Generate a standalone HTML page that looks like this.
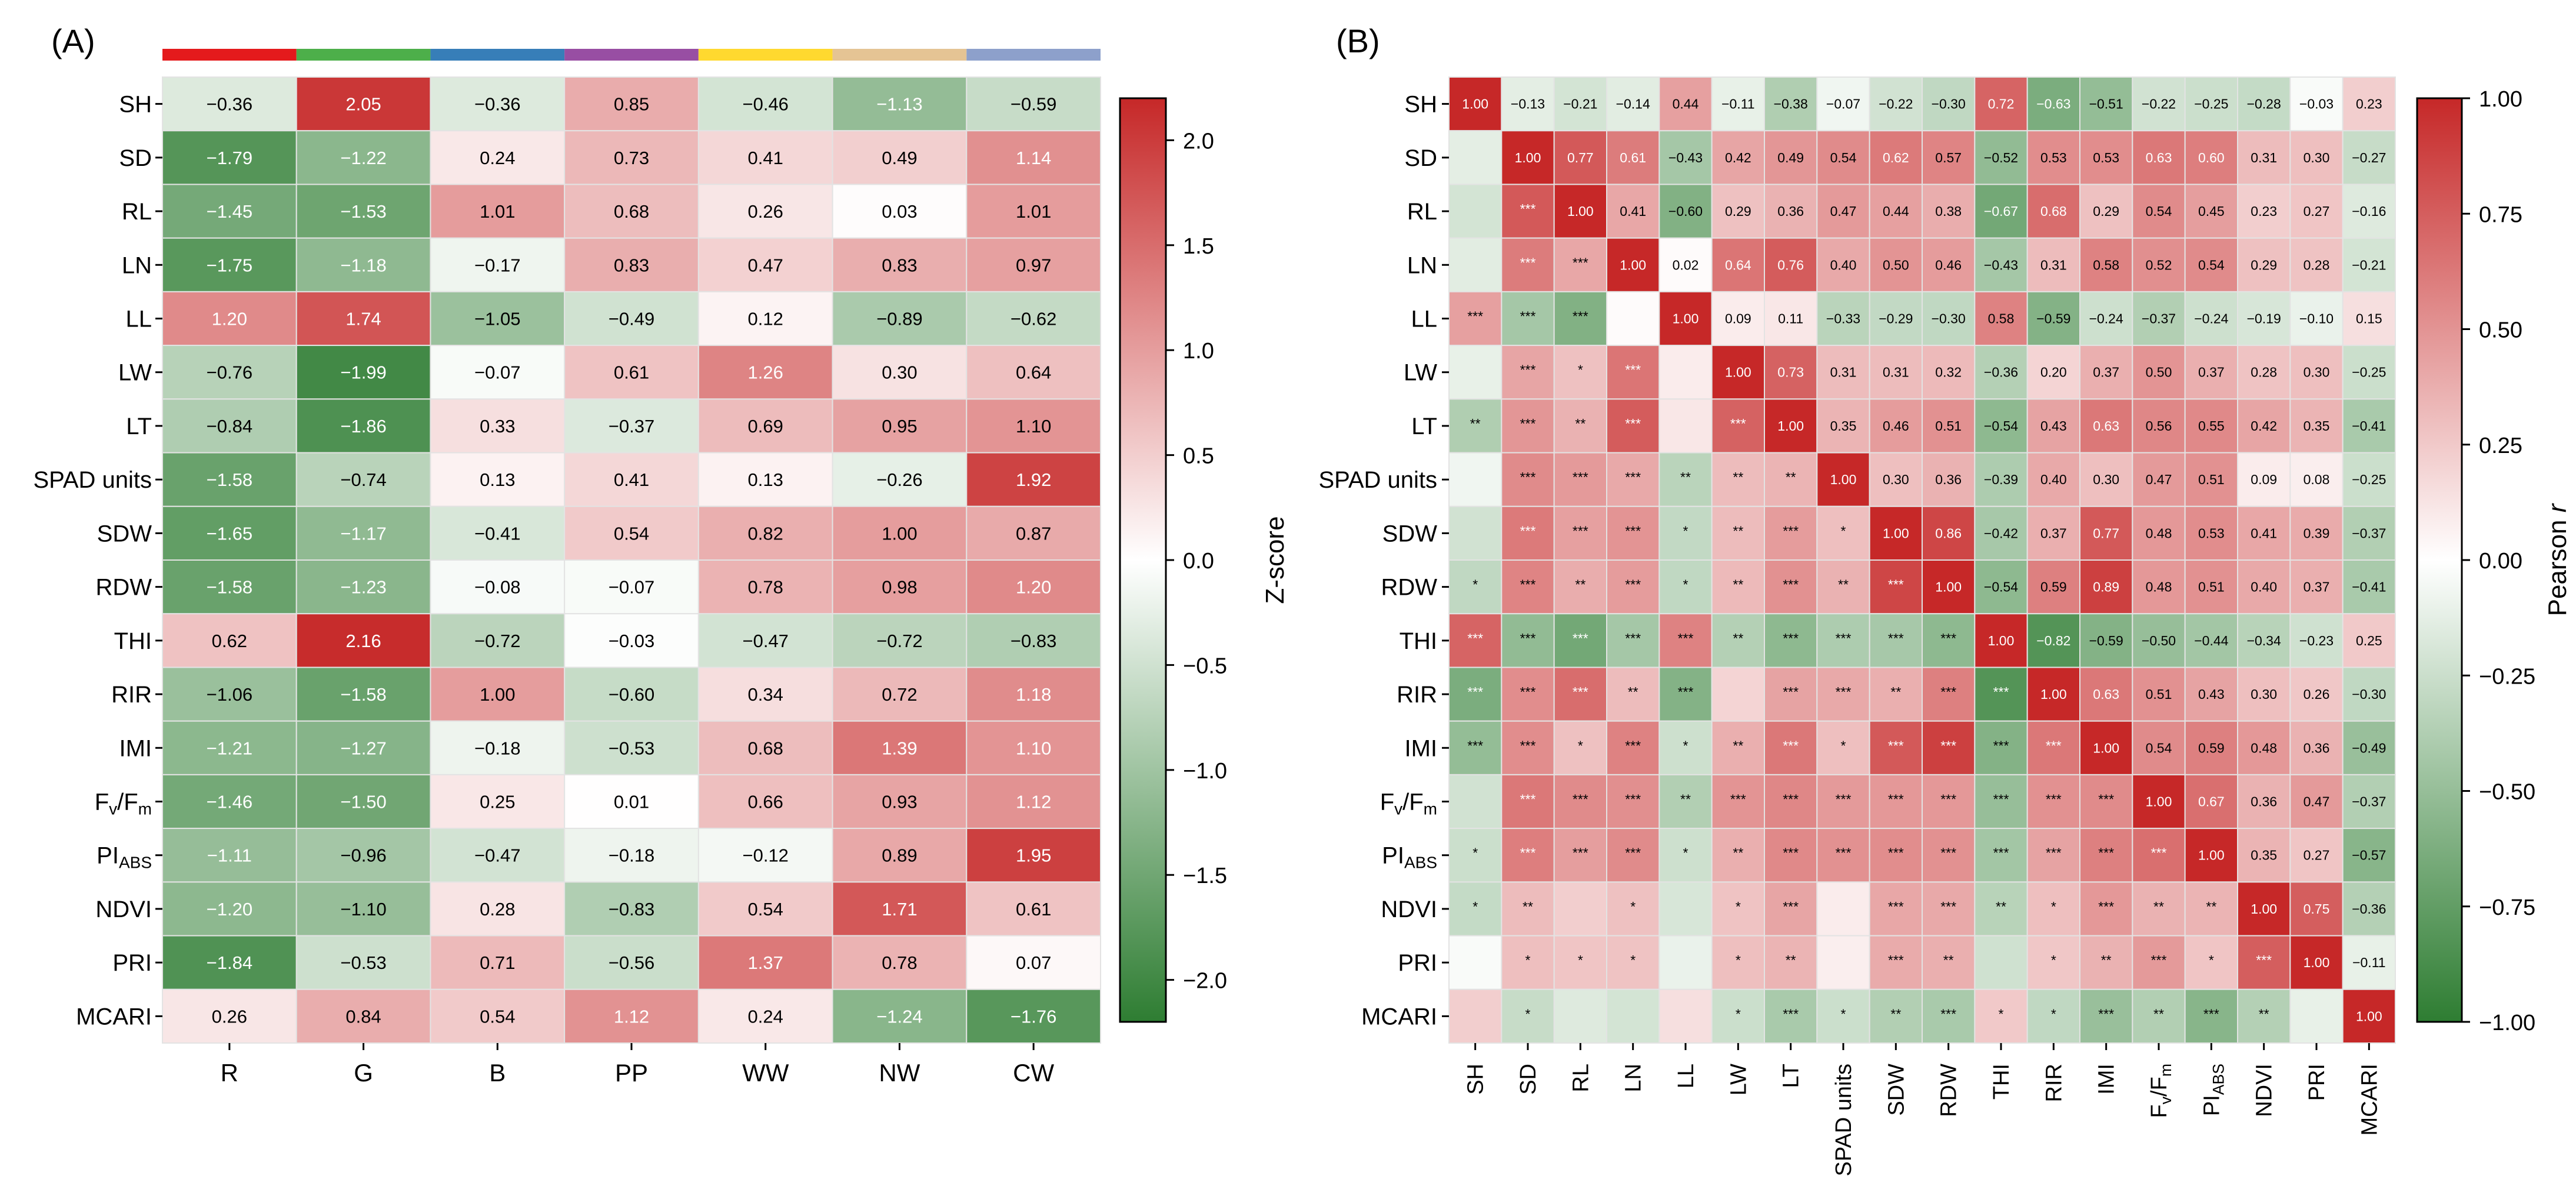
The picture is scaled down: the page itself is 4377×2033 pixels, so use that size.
<!DOCTYPE html>
<html><head><meta charset="utf-8"><style>
html,body{margin:0;padding:0;background:#fff;}
svg{display:block;font-family:"Liberation Sans",Arial,sans-serif;}
</style></head><body>
<svg id="fig" width="4377" height="2033" viewBox="0 0 4377 2033" xmlns="http://www.w3.org/2000/svg">
<defs>
<linearGradient id="cmap" x1="0" y1="1" x2="0" y2="0">
<stop offset="0" stop-color="#2e7d32"/><stop offset="0.5" stop-color="#ffffff"/><stop offset="1" stop-color="#c62828"/>
</linearGradient>
</defs>
<text x="87" y="89" font-size="56">(A)</text>
<text x="2270" y="89" font-size="56">(B)</text>
<g id="ga"></g>
<g id="gb"></g>
</svg>
<script>
const traits = ["SH","SD","RL","LN","LL","LW","LT","SPAD units","SDW","RDW","THI","RIR","IMI","FV","PI","NDVI","PRI","MCARI"];
const groups = ["R","G","B","PP","WW","NW","CW"];
const groupColors = ["#e41a1c","#4daf4a","#377eb8","#984ea3","#ffd92f","#e5c494","#8da0cb"];
const zR  = [-0.36,-1.79,-1.45,-1.75,1.20,-0.76,-0.84,-1.58,-1.65,-1.58,0.62,-1.06,-1.21,-1.46,-1.11,-1.20,-1.84,0.26];
const zG  = [2.05,-1.22,-1.53,-1.18,1.74,-1.99,-1.86,-0.74,-1.17,-1.23,2.16,-1.58,-1.27,-1.50,-0.96,-1.10,-0.53,0.84];
const zB  = [-0.36,0.24,1.01,-0.17,-1.05,-0.07,0.33,0.13,-0.41,-0.08,-0.72,1.00,-0.18,0.25,-0.47,0.28,0.71,0.54];
const zPP = [0.85,0.73,0.68,0.83,-0.49,0.61,-0.37,0.41,0.54,-0.07,-0.03,-0.60,-0.53,0.01,-0.18,-0.83,-0.56,1.12];
const zWW = [-0.46,0.41,0.26,0.47,0.12,1.26,0.69,0.13,0.82,0.78,-0.47,0.34,0.68,0.66,-0.12,0.54,1.37,0.24];
const zNW = [-1.13,0.49,0.03,0.83,-0.89,0.30,0.95,-0.26,1.00,0.98,-0.72,0.72,1.39,0.93,0.89,1.71,0.78,-1.24];
const zCW = [-0.59,1.14,1.01,0.97,-0.62,0.64,1.10,1.92,0.87,1.20,-0.83,1.18,1.10,1.12,1.95,0.61,0.07,-1.76];
const zTicks = [2.0,1.5,1.0,0.5,0.0,-0.5,-1.0,-1.5,-2.0];
const rUpper = [
[1.00,-0.13,-0.21,-0.14,0.44,-0.11,-0.38,-0.07,-0.22,-0.30,0.72,-0.63,-0.51,-0.22,-0.25,-0.28,-0.03,0.23],
[1.00,0.77,0.61,-0.43,0.42,0.49,0.54,0.62,0.57,-0.52,0.53,0.53,0.63,0.60,0.31,0.30,-0.27],
[1.00,0.41,-0.60,0.29,0.36,0.47,0.44,0.38,-0.67,0.68,0.29,0.54,0.45,0.23,0.27,-0.16],
[1.00,0.02,0.64,0.76,0.40,0.50,0.46,-0.43,0.31,0.58,0.52,0.54,0.29,0.28,-0.21],
[1.00,0.09,0.11,-0.33,-0.29,-0.30,0.58,-0.59,-0.24,-0.37,-0.24,-0.19,-0.10,0.15],
[1.00,0.73,0.31,0.31,0.32,-0.36,0.20,0.37,0.50,0.37,0.28,0.30,-0.25],
[1.00,0.35,0.46,0.51,-0.54,0.43,0.63,0.56,0.55,0.42,0.35,-0.41],
[1.00,0.30,0.36,-0.39,0.40,0.30,0.47,0.51,0.09,0.08,-0.25],
[1.00,0.86,-0.42,0.37,0.77,0.48,0.53,0.41,0.39,-0.37],
[1.00,-0.54,0.59,0.89,0.48,0.51,0.40,0.37,-0.41],
[1.00,-0.82,-0.59,-0.50,-0.44,-0.34,-0.23,0.25],
[1.00,0.63,0.51,0.43,0.30,0.26,-0.30],
[1.00,0.54,0.59,0.48,0.36,-0.49],
[1.00,0.67,0.36,0.47,-0.37],
[1.00,0.35,0.27,-0.57],
[1.00,0.75,-0.36],
[1.00,-0.11],
[1.00]];
const stars = [
[],
[""],
["","***"],
["","***","***"],
["***","***","***",""],
["","***","*","***",""],
["**","***","**","***","","***"],
["","***","***","***","**","**","**"],
["","***","***","***","*","**","***","*"],
["*","***","**","***","*","**","***","**","***"],
["***","***","***","***","***","**","***","***","***","***"],
["***","***","***","**","***","","***","***","**","***","***"],
["***","***","*","***","*","**","***","*","***","***","***","***"],
["","***","***","***","**","***","***","***","***","***","***","***","***"],
["*","***","***","***","*","**","***","***","***","***","***","***","***","***"],
["*","**","","*","","*","***","","***","***","**","*","***","**","**"],
["","*","*","*","","*","**","","***","**","","*","**","***","*","***"],
["","*","","","","*","***","*","**","***","*","*","***","**","***","**",""]];
const rTicks = [1.00,0.75,0.50,0.25,0.00,-0.25,-0.50,-0.75,-1.00];

const NS="http://www.w3.org/2000/svg";
function mk(tag,attrs,parent){const e=document.createElementNS(NS,tag);for(const k in attrs)e.setAttribute(k,attrs[k]);parent.appendChild(e);return e;}
function color(v,vmax){let t=Math.max(-1,Math.min(1,v/vmax));const w=[255,255,255],r=[198,40,40],g=[46,125,50];const c=t>=0?r:g;const a=Math.abs(t);return `rgb(${w.map((x,i)=>Math.round(x+(c[i]-x)*a)).join(",")})`;}
function label(el,name){
  if(name==="FV"){el.textContent="F";let s=mk("tspan",{"font-size":"0.7em",dy:"8"},el);s.textContent="v";let t=mk("tspan",{dy:"-8"},el);t.textContent="/F";let u=mk("tspan",{"font-size":"0.7em",dy:"8"},el);u.textContent="m";}
  else if(name==="PI"){el.textContent="PI";let s=mk("tspan",{"font-size":"0.7em",dy:"8"},el);s.textContent="ABS";}
  else el.textContent=name;
}
const fmt=v=>(v<0?"\u2212":"")+Math.abs(v).toFixed(2);

const ga=document.getElementById("ga");
const AX0=276,AX1=1870,AY0=131,AY1=1773;
const aCols=[zR,zG,zB,zPP,zWW,zNW,zCW];
const cwA=(AX1-AX0)/groups.length, chA=(AY1-AY0)/traits.length;
const xA=j=>AX0+j*cwA, yA=i=>AY0+i*chA;
groups.forEach((gname,j)=>{
  const s=mk("rect",{x:xA(j),y:83,width:cwA,height:20,fill:groupColors[j]},ga);
  
  
});
traits.forEach((t,i)=>{
  groups.forEach((gname,j)=>{
    const v=aCols[j][i];
    const r=mk("rect",{x:xA(j),y:yA(i),width:cwA,height:chA,fill:color(v,2.2),stroke:"#e3e3e3","stroke-width":2},ga);
    
    
    const white=(v>=1.1&&!(i===6&&j===6))||v<-1.105;
    const tx=mk("text",{x:xA(j)+cwA/2,y:yA(i)+chA/2+11,"font-size":31,"text-anchor":"middle",fill:white?"#fff":"#000"},ga);
    tx.textContent=fmt(v);
    
    
  });
  mk("line",{x1:AX0-12,x2:AX0,y1:yA(i)+chA/2,y2:yA(i)+chA/2,stroke:"#000","stroke-width":3},ga);
  const lb=mk("text",{x:AX0-18,y:yA(i)+chA/2+14,"font-size":40,"text-anchor":"end"},ga);
  label(lb,t);
  
  
});
groups.forEach((gname,j)=>{
  mk("line",{x1:xA(j)+cwA/2,x2:xA(j)+cwA/2,y1:AY1,y2:AY1+12,stroke:"#000","stroke-width":3},ga);
  const tx=mk("text",{x:xA(j)+cwA/2,y:1838,"font-size":42,"text-anchor":"middle"},ga);
  tx.textContent=gname;
  
  
});
const CBT=167,CBB=1737;
const cbA=mk("rect",{x:1903,y:CBT,width:78,height:CBB-CBT,fill:"url(#cmap)",stroke:"#000","stroke-width":3},ga);


const cbyA=v=>CBT+(2.2-v)/4.4*(CBB-CBT);
zTicks.forEach(v=>{
  mk("line",{x1:1981,x2:1995,y1:cbyA(v),y2:cbyA(v),stroke:"#000","stroke-width":3},ga);
  const tx=mk("text",{x:2010,y:cbyA(v)+14,"font-size":38},ga);
  tx.textContent=(v<0?"\u2212":"")+Math.abs(v).toFixed(1);
  
  
});
const za=mk("text",{x:2181,y:952,"font-size":44,"text-anchor":"middle",transform:"rotate(-90 2181 952)"},ga);
za.textContent="Z-score";



const gb=document.getElementById("gb");
const BX0=2462,BX1=4070,BY0=131,BY1=1773;
const n=traits.length, cwB=(BX1-BX0)/n, chB=(BY1-BY0)/n;
const xB=j=>BX0+j*cwB, yB=i=>BY0+i*chB;
const rv=(i,j)=> i<=j ? rUpper[i][j-i] : rUpper[j][i-j];
for(let i=0;i<n;i++){
  for(let j=0;j<n;j++){
    const v=rv(i,j);
    const r=mk("rect",{x:xB(j),y:yB(i),width:cwB,height:chB,fill:color(v,1),stroke:"#e3e3e3","stroke-width":2},gb);
    
    
    const white=v>=0.6||v<=-0.62;
    if(j>=i){
      const tx=mk("text",{x:xB(j)+cwB/2,y:yB(i)+chB/2+8,"font-size":23,"text-anchor":"middle",fill:white?"#fff":"#000"},gb);
      tx.textContent=fmt(v);
      
      
    } else if(stars[i][j]){
      const tx=mk("text",{x:xB(j)+cwB/2,y:yB(i)+chB/2+4,"font-size":23,"text-anchor":"middle",fill:white?"#fff":"#000"},gb);
      tx.textContent=stars[i][j];
      
      
    }
  }
}
traits.forEach((t,i)=>{
  mk("line",{x1:BX0-12,x2:BX0,y1:yB(i)+chB/2,y2:yB(i)+chB/2,stroke:"#000","stroke-width":3},gb);
  const lb=mk("text",{x:BX0-20,y:yB(i)+chB/2+14,"font-size":40,"text-anchor":"end"},gb);
  label(lb,t);
  
  
  const cx=xB(i)+cwB/2;
  mk("line",{x1:cx,x2:cx,y1:BY1,y2:BY1+12,stroke:"#000","stroke-width":3},gb);
  const tx=mk("text",{x:cx+13,y:1808,"font-size":38,"text-anchor":"end",transform:`rotate(-90 ${cx+13} 1808)`},gb);
  label(tx,t);
  
  
});
const cbB=mk("rect",{x:4107,y:CBT,width:76,height:CBB-CBT,fill:"url(#cmap)",stroke:"#000","stroke-width":3},gb);


const cbyB=v=>CBT+(1-v)/2*(CBB-CBT);
rTicks.forEach(v=>{
  mk("line",{x1:4183,x2:4197,y1:cbyB(v),y2:cbyB(v),stroke:"#000","stroke-width":3},gb);
  const tx=mk("text",{x:4212,y:cbyB(v)+14,"font-size":38},gb);
  tx.textContent=(v<0?"\u2212":"")+Math.abs(v).toFixed(2);
  
  
});
const pb=mk("text",{x:4360,y:952,"font-size":44,"text-anchor":"middle",transform:"rotate(-90 4360 952)"},gb);
pb.textContent="Pearson ";
const it=mk("tspan",{"font-style":"italic"},pb);it.textContent="r";


</script>
</body></html>
